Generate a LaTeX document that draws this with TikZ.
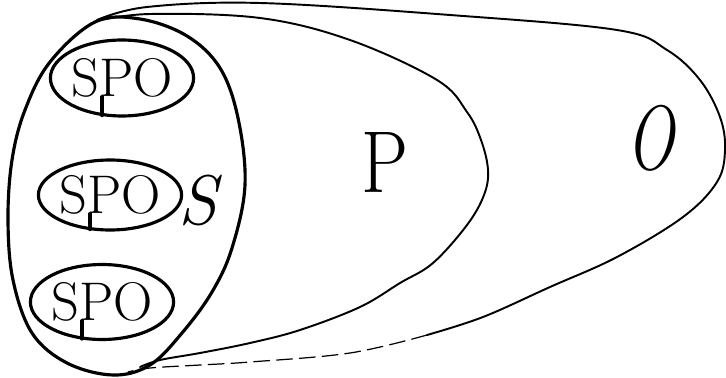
\documentclass[tikz,border=0pt]{standalone}
\usepackage{tikz}
\usetikzlibrary{positioning, calc, shapes.geometric}

\begin{document}
\begin{tikzpicture}[
    x=0.02cm, y=-0.02cm,
    outline/.style={line width=1.8pt, line join=round, line cap=round},
    thinline/.style={line width=1.1pt, line join=round, line cap=round},
    faintline/.style={line width=0.7pt, dash pattern=on 9pt off 4pt, line cap=round},
    spo/.style={ellipse, draw, line width=1.8pt, inner sep=0pt, font=\fontsize{31}{32}\selectfont},
    biglabel/.style={inner sep=0pt, font=\fontsize{50}{52}\selectfont}
]
    \useasboundingbox (0,0) rectangle (726,378);

    \draw[outline] plot[smooth cycle, tension=0.6] coordinates {
        (95,22) (140,19) (187,36) (220,68) (238,118) (245,185) (232,248)
        (212,292) (182,333) (150,365) (113,375) (67,363) (32,333) (13,280)
        (8,220) (12,160) (25,110) (50,62)};

    \draw[thinline] plot[smooth, tension=0.6] coordinates {
        (97,21) (150,14) (260,18) (350,40) (437,80) (467,112) (481,140)
        (488,170) (484,195) (467,225) (433,263) (400,283) (360,307)
        (300,330) (250,343) (200,353) (160,360) (140,367)};

    \draw[thinline] plot[smooth, tension=0.6] coordinates {
        (97,20) (147,7) (260,3) (450,15) (617,30) (667,50) (700,80)
        (720,117) (725,150) (717,182) (683,217) (617,257) (550,287)
        (483,317) (427,335)};
    \draw[faintline] plot[smooth, tension=0.6] coordinates {
        (427,335) (350,353) (250,362) (200,365) (150,368) (128,372)};

    \node[spo, minimum width=2.56cm, minimum height=1.52cm] (spoA) at (122,78) {SPO};
    \node[spo, minimum width=2.6cm, minimum height=1.4cm] (spoB) at (110,195) {SPO};
    \node[spo, minimum width=2.62cm, minimum height=1.5cm] (spoC) at (102,302) {SPO};

    \draw[outline] ($(spoA.base)+(-20,0)$) -- ($(spoA.south)+(-20,-2)$);
    \draw[outline] ($(spoB.base)+(-20,0)$) -- ($(spoB.south)+(-20,-2)$);
    \draw[outline] ($(spoC.base)+(-20,0)$) -- ($(spoC.south)+(-20,-2)$);

    \node[biglabel, font=\fontsize{40}{42}\selectfont\itshape] (S) at (198,200) {S};
    \node[biglabel] (P) at (385,163) {\scalebox{0.85}[1]{P}};
    \node[biglabel, font=\fontsize{52}{54}\selectfont\itshape] (O) at (650,138) {\scalebox{0.7}[1]{O}};
\end{tikzpicture}
\end{document}
